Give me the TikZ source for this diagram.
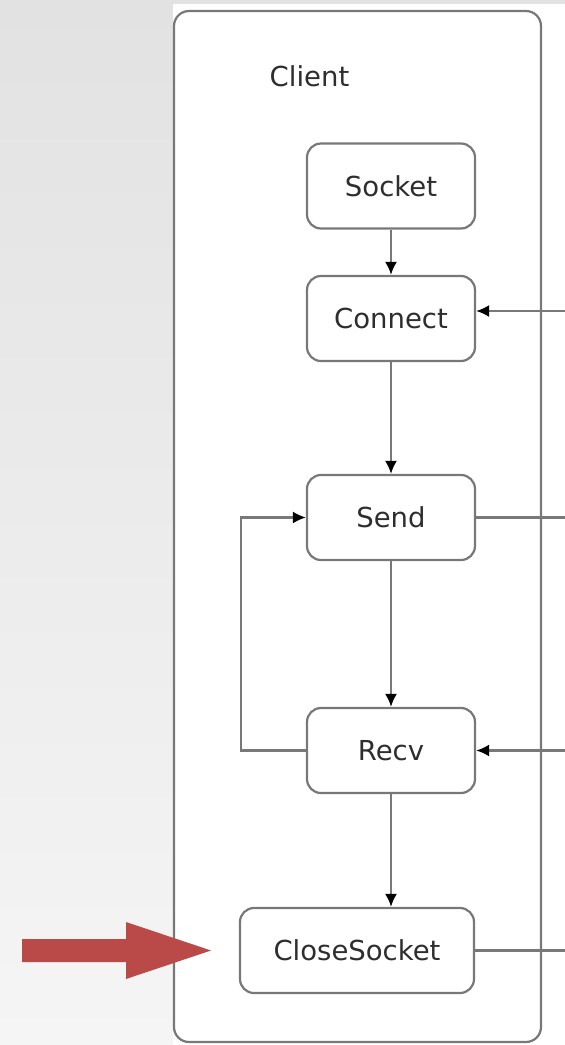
\documentclass[tikz,border=0pt]{standalone}
\usepackage{fontspec}
\setmainfont{DejaVu Sans}
\usetikzlibrary{arrows.meta}
\definecolor{edgegray}{HTML}{787878}
\definecolor{textgray}{HTML}{2E2E2E}
\definecolor{bgtop}{HTML}{E2E2E2}
\definecolor{bgbottom}{HTML}{F5F5F5}
\definecolor{markred}{HTML}{B94A48}
\tikzset{
  stepbox/.style={draw=edgegray, line width=2.2pt, rounded corners=14pt, fill=white,
    text=textgray, minimum height=85pt, inner sep=0pt,
    font=\fontsize{27.5}{32}\selectfont},
  flow/.style={draw=edgegray, line width=2.2pt,
    arrows={-{Latex[length=13pt,width=12pt,fill=black,color=black]}}},
  link/.style={draw=edgegray, line width=2.2pt}
}
\begin{document}
\begin{tikzpicture}[x=1pt,y=-1pt]
\useasboundingbox (0,0) rectangle (565,1045);
% page background
\shade[top color=bgtop, bottom color=bgbottom] (0,0) rectangle (565,1045);
\fill[white] (173,4) rectangle (565,1045);
% client swimlane
\draw[edgegray, line width=2.2pt, rounded corners=15pt] (174,11) rectangle (541,1042);
\node[text=textgray, font=\fontsize{27.5}{32}\selectfont] (client) at (309.5,76) {Client};
% steps
\node[stepbox, minimum width=168pt] (socket)  at (391,186)   {Socket};
\node[stepbox, minimum width=168pt] (connect) at (391,318.5) {Connect};
\node[stepbox, minimum width=168pt] (send)    at (391,517.5) {Send};
\node[stepbox, minimum width=168pt] (recv)    at (391,750.5) {Recv};
\node[stepbox, minimum width=234pt] (close)   at (357,950.5) {CloseSocket};
% loose ends leading out of the lane
\coordinate (connIn) at (565,311);
\coordinate (sendOut) at (565,517.5);
\coordinate (recvIn) at (565,750.5);
\coordinate (closeOut) at (565,950.5);
\coordinate (loopL) at (241,0);
% main sequence
\draw[flow] (socket) -- (connect);
\draw[flow] (connect) -- (send);
\draw[flow] (send) -- (recv);
\draw[flow] (recv.south) -- (recv.south |- close.north);
% receive loop back to send
\draw[flow] (recv.west) -- (loopL |- recv.west) -- (loopL |- send.west) -- (send.west);
% links to the other side
\draw[flow] (connIn) -- (connect.east |- connIn);
\draw[link] (send.east) -- (sendOut);
\draw[flow] (recvIn) -- (recv.east);
\draw[link] (close.east) -- (closeOut);
% marker pointing at the close step
\fill[markred] (22,939) -- (126,939) -- (126,922) -- (211,950.5) -- (126,979) -- (126,962) -- (22,962) -- cycle;
\end{tikzpicture}
\end{document}
